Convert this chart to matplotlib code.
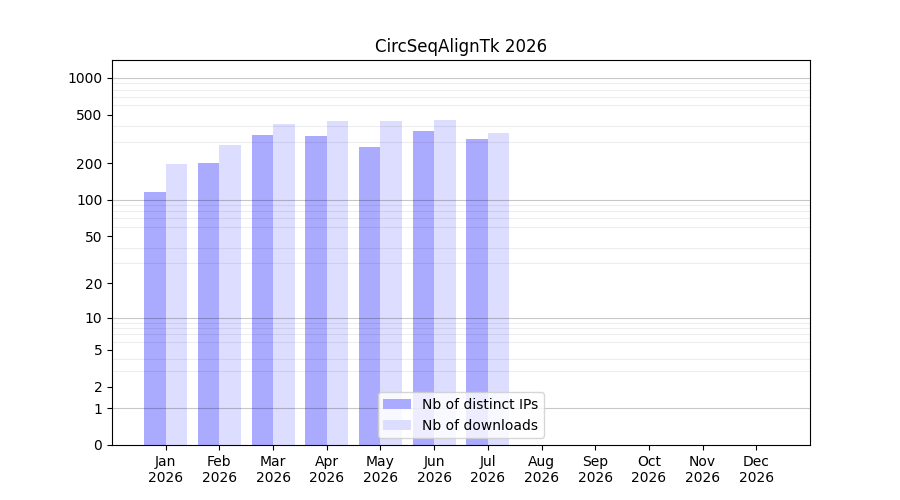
import numpy as np
import matplotlib
matplotlib.use("Agg")
import matplotlib.pyplot as plt

months = ['Jan', 'Feb', 'Mar', 'Apr', 'May', 'Jun', 'Jul', 'Aug', 'Sep', 'Oct', 'Nov', 'Dec']
year = '2026'
distinct_ips = [115, 201, 342, 335, 272, 368, 317]
downloads = [198, 283, 420, 445, 445, 453, 355]
ytick_vals = [0, 1, 2, 5, 10, 20, 50, 100, 200, 500, 1000]

def fwd(y):
    return np.log10(1 + np.clip(y, 0, None))

def inv(y):
    return 10 ** y - 1

fig, ax = plt.subplots(figsize=(9, 5), dpi=100)
fig.subplots_adjust(left=0.1245, right=0.9, top=0.88, bottom=0.11)

x = np.arange(len(distinct_ips))
ax.bar(x - 0.4, distinct_ips, width=0.4, align='edge', color='#aaaaff', label='Nb of distinct IPs', zorder=1)
ax.bar(x, downloads, width=0.4, align='edge', color='#ddddff', label='Nb of downloads', zorder=1)

ax.set_yscale('function', functions=(fwd, inv))
ax.set_ylim(0, 1400)
ax.set_xlim(-1, 12)

ax.set_yticks(ytick_vals)
ax.set_yticklabels([str(v) for v in ytick_vals])
minor = [m * 10 ** k for k in range(0, 4) for m in range(2, 10)]
ax.set_yticks([v for v in minor if v < 1400], minor=True)
ax.tick_params(axis='y', which='minor', length=0)
ax.set_axisbelow(False)
ax.grid(axis='y', which='minor', color='black', alpha=0.07, linewidth=0.8)
for v in [1, 10, 100, 1000]:
    ax.axhline(v, color='black', linewidth=0.8, alpha=0.22, zorder=3)

ax.set_xticks(np.arange(len(months)))
ax.set_xticklabels([m + '\n' + year for m in months])

ax.set_title('CircSeqAlignTk 2026')
ax.legend(loc='lower center')

fig.savefig('out.png')
